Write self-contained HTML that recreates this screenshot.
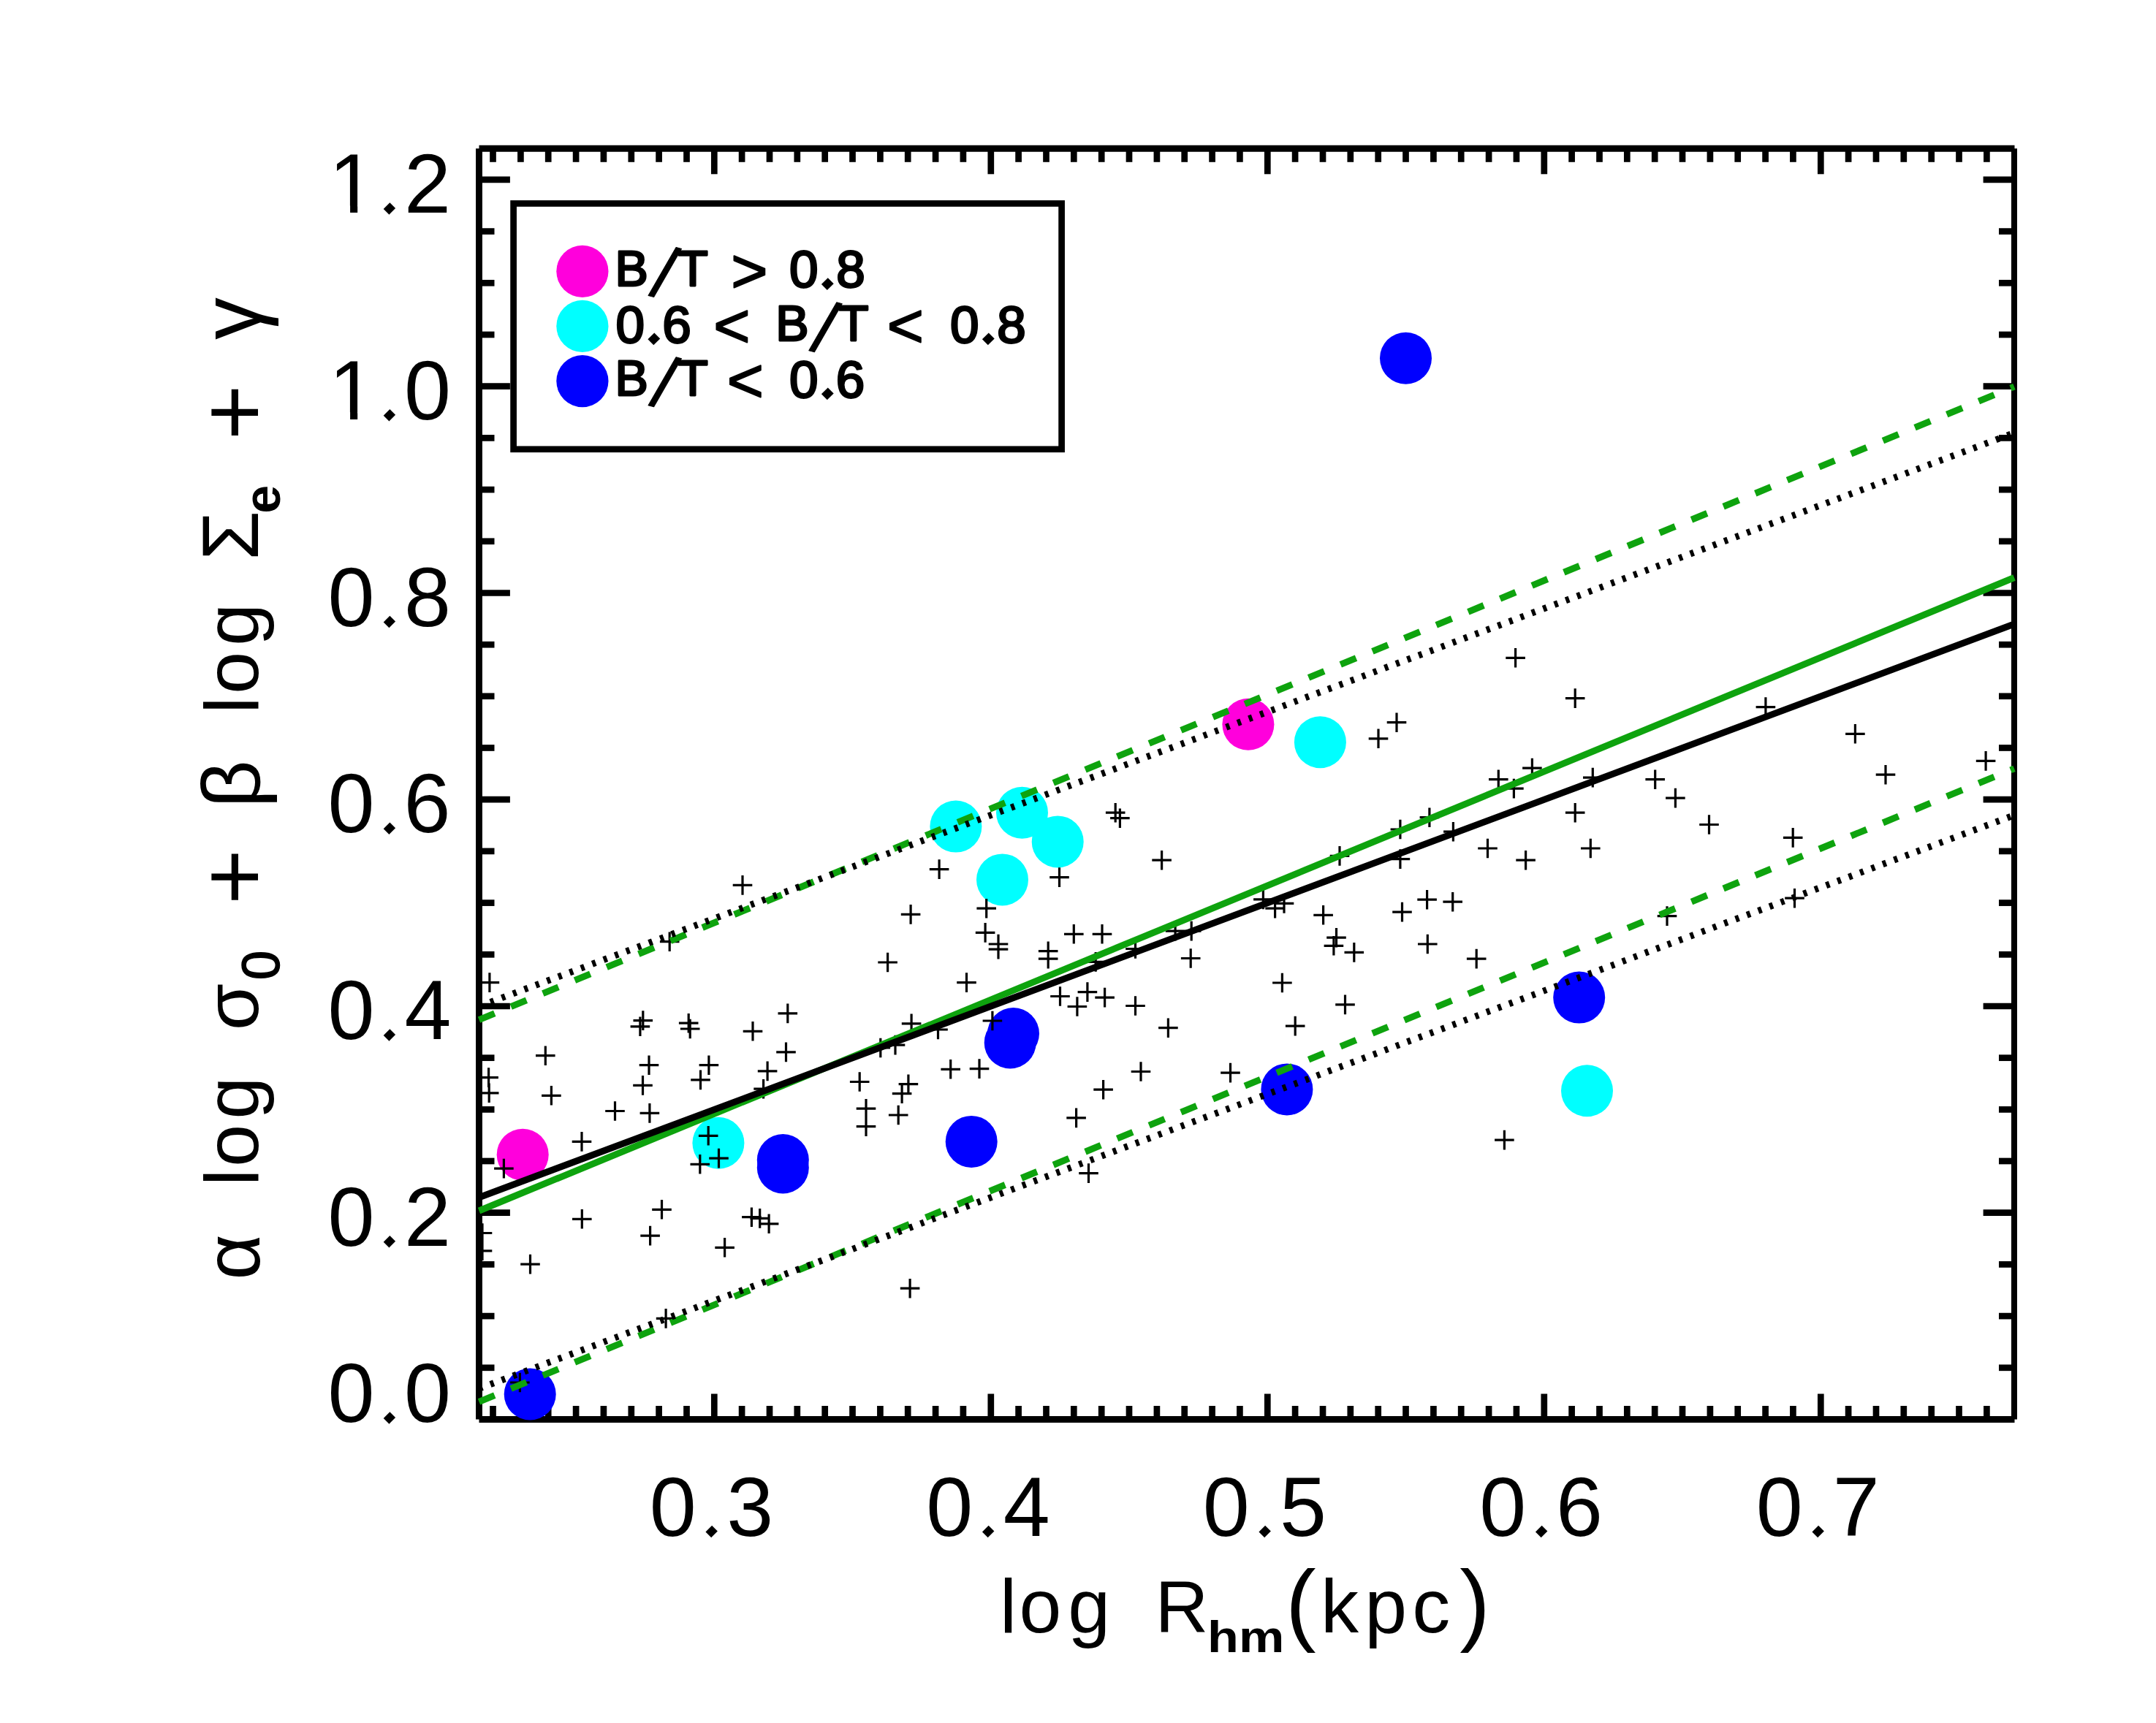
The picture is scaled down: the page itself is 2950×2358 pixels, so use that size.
<!DOCTYPE html>
<html><head><meta charset="utf-8"><title>Fundamental plane</title>
<style>html,body{margin:0;padding:0;background:#fff}svg{display:block}</style></head>
<body><svg width="2950" height="2358" viewBox="0 0 2950 2358">
<rect width="2950" height="2358" fill="#fff"/>
<g id="axes">
<line x1="655.5" y1="203.3" x2="2756.5" y2="203.3" stroke="#000" stroke-width="8.9" />
<line x1="655.5" y1="1942.5" x2="2756.5" y2="1942.5" stroke="#000" stroke-width="8.8" />
<line x1="655.5" y1="203.3" x2="655.5" y2="1942.5" stroke="#000" stroke-width="8.9" />
<line x1="2756.0" y1="203.3" x2="2756.0" y2="1942.5" stroke="#000" stroke-width="8.0" />
<line x1="674.5" y1="1942.5" x2="674.5" y2="1924.0" stroke="#000" stroke-width="8.7" />
<line x1="674.5" y1="203.3" x2="674.5" y2="221.8" stroke="#000" stroke-width="8.7" />
<line x1="712.4" y1="1942.5" x2="712.4" y2="1924.0" stroke="#000" stroke-width="8.7" />
<line x1="712.4" y1="203.3" x2="712.4" y2="221.8" stroke="#000" stroke-width="8.7" />
<line x1="750.2" y1="1942.5" x2="750.2" y2="1924.0" stroke="#000" stroke-width="8.7" />
<line x1="750.2" y1="203.3" x2="750.2" y2="221.8" stroke="#000" stroke-width="8.7" />
<line x1="788.1" y1="1942.5" x2="788.1" y2="1924.0" stroke="#000" stroke-width="8.7" />
<line x1="788.1" y1="203.3" x2="788.1" y2="221.8" stroke="#000" stroke-width="8.7" />
<line x1="825.9" y1="1942.5" x2="825.9" y2="1924.0" stroke="#000" stroke-width="8.7" />
<line x1="825.9" y1="203.3" x2="825.9" y2="221.8" stroke="#000" stroke-width="8.7" />
<line x1="863.8" y1="1942.5" x2="863.8" y2="1924.0" stroke="#000" stroke-width="8.7" />
<line x1="863.8" y1="203.3" x2="863.8" y2="221.8" stroke="#000" stroke-width="8.7" />
<line x1="901.6" y1="1942.5" x2="901.6" y2="1924.0" stroke="#000" stroke-width="8.7" />
<line x1="901.6" y1="203.3" x2="901.6" y2="221.8" stroke="#000" stroke-width="8.7" />
<line x1="939.5" y1="1942.5" x2="939.5" y2="1924.0" stroke="#000" stroke-width="8.7" />
<line x1="939.5" y1="203.3" x2="939.5" y2="221.8" stroke="#000" stroke-width="8.7" />
<line x1="977.3" y1="1942.5" x2="977.3" y2="1907.5" stroke="#000" stroke-width="8.7" />
<line x1="977.3" y1="203.3" x2="977.3" y2="238.3" stroke="#000" stroke-width="8.7" />
<line x1="1015.1" y1="1942.5" x2="1015.1" y2="1924.0" stroke="#000" stroke-width="8.7" />
<line x1="1015.1" y1="203.3" x2="1015.1" y2="221.8" stroke="#000" stroke-width="8.7" />
<line x1="1053.0" y1="1942.5" x2="1053.0" y2="1924.0" stroke="#000" stroke-width="8.7" />
<line x1="1053.0" y1="203.3" x2="1053.0" y2="221.8" stroke="#000" stroke-width="8.7" />
<line x1="1090.8" y1="1942.5" x2="1090.8" y2="1924.0" stroke="#000" stroke-width="8.7" />
<line x1="1090.8" y1="203.3" x2="1090.8" y2="221.8" stroke="#000" stroke-width="8.7" />
<line x1="1128.7" y1="1942.5" x2="1128.7" y2="1924.0" stroke="#000" stroke-width="8.7" />
<line x1="1128.7" y1="203.3" x2="1128.7" y2="221.8" stroke="#000" stroke-width="8.7" />
<line x1="1166.5" y1="1942.5" x2="1166.5" y2="1924.0" stroke="#000" stroke-width="8.7" />
<line x1="1166.5" y1="203.3" x2="1166.5" y2="221.8" stroke="#000" stroke-width="8.7" />
<line x1="1204.4" y1="1942.5" x2="1204.4" y2="1924.0" stroke="#000" stroke-width="8.7" />
<line x1="1204.4" y1="203.3" x2="1204.4" y2="221.8" stroke="#000" stroke-width="8.7" />
<line x1="1242.2" y1="1942.5" x2="1242.2" y2="1924.0" stroke="#000" stroke-width="8.7" />
<line x1="1242.2" y1="203.3" x2="1242.2" y2="221.8" stroke="#000" stroke-width="8.7" />
<line x1="1280.1" y1="1942.5" x2="1280.1" y2="1924.0" stroke="#000" stroke-width="8.7" />
<line x1="1280.1" y1="203.3" x2="1280.1" y2="221.8" stroke="#000" stroke-width="8.7" />
<line x1="1317.9" y1="1942.5" x2="1317.9" y2="1924.0" stroke="#000" stroke-width="8.7" />
<line x1="1317.9" y1="203.3" x2="1317.9" y2="221.8" stroke="#000" stroke-width="8.7" />
<line x1="1355.8" y1="1942.5" x2="1355.8" y2="1907.5" stroke="#000" stroke-width="8.7" />
<line x1="1355.8" y1="203.3" x2="1355.8" y2="238.3" stroke="#000" stroke-width="8.7" />
<line x1="1393.6" y1="1942.5" x2="1393.6" y2="1924.0" stroke="#000" stroke-width="8.7" />
<line x1="1393.6" y1="203.3" x2="1393.6" y2="221.8" stroke="#000" stroke-width="8.7" />
<line x1="1431.5" y1="1942.5" x2="1431.5" y2="1924.0" stroke="#000" stroke-width="8.7" />
<line x1="1431.5" y1="203.3" x2="1431.5" y2="221.8" stroke="#000" stroke-width="8.7" />
<line x1="1469.3" y1="1942.5" x2="1469.3" y2="1924.0" stroke="#000" stroke-width="8.7" />
<line x1="1469.3" y1="203.3" x2="1469.3" y2="221.8" stroke="#000" stroke-width="8.7" />
<line x1="1507.2" y1="1942.5" x2="1507.2" y2="1924.0" stroke="#000" stroke-width="8.7" />
<line x1="1507.2" y1="203.3" x2="1507.2" y2="221.8" stroke="#000" stroke-width="8.7" />
<line x1="1545.0" y1="1942.5" x2="1545.0" y2="1924.0" stroke="#000" stroke-width="8.7" />
<line x1="1545.0" y1="203.3" x2="1545.0" y2="221.8" stroke="#000" stroke-width="8.7" />
<line x1="1582.9" y1="1942.5" x2="1582.9" y2="1924.0" stroke="#000" stroke-width="8.7" />
<line x1="1582.9" y1="203.3" x2="1582.9" y2="221.8" stroke="#000" stroke-width="8.7" />
<line x1="1620.7" y1="1942.5" x2="1620.7" y2="1924.0" stroke="#000" stroke-width="8.7" />
<line x1="1620.7" y1="203.3" x2="1620.7" y2="221.8" stroke="#000" stroke-width="8.7" />
<line x1="1658.6" y1="1942.5" x2="1658.6" y2="1924.0" stroke="#000" stroke-width="8.7" />
<line x1="1658.6" y1="203.3" x2="1658.6" y2="221.8" stroke="#000" stroke-width="8.7" />
<line x1="1696.4" y1="1942.5" x2="1696.4" y2="1924.0" stroke="#000" stroke-width="8.7" />
<line x1="1696.4" y1="203.3" x2="1696.4" y2="221.8" stroke="#000" stroke-width="8.7" />
<line x1="1734.3" y1="1942.5" x2="1734.3" y2="1907.5" stroke="#000" stroke-width="8.7" />
<line x1="1734.3" y1="203.3" x2="1734.3" y2="238.3" stroke="#000" stroke-width="8.7" />
<line x1="1772.1" y1="1942.5" x2="1772.1" y2="1924.0" stroke="#000" stroke-width="8.7" />
<line x1="1772.1" y1="203.3" x2="1772.1" y2="221.8" stroke="#000" stroke-width="8.7" />
<line x1="1810.0" y1="1942.5" x2="1810.0" y2="1924.0" stroke="#000" stroke-width="8.7" />
<line x1="1810.0" y1="203.3" x2="1810.0" y2="221.8" stroke="#000" stroke-width="8.7" />
<line x1="1847.8" y1="1942.5" x2="1847.8" y2="1924.0" stroke="#000" stroke-width="8.7" />
<line x1="1847.8" y1="203.3" x2="1847.8" y2="221.8" stroke="#000" stroke-width="8.7" />
<line x1="1885.7" y1="1942.5" x2="1885.7" y2="1924.0" stroke="#000" stroke-width="8.7" />
<line x1="1885.7" y1="203.3" x2="1885.7" y2="221.8" stroke="#000" stroke-width="8.7" />
<line x1="1923.5" y1="1942.5" x2="1923.5" y2="1924.0" stroke="#000" stroke-width="8.7" />
<line x1="1923.5" y1="203.3" x2="1923.5" y2="221.8" stroke="#000" stroke-width="8.7" />
<line x1="1961.4" y1="1942.5" x2="1961.4" y2="1924.0" stroke="#000" stroke-width="8.7" />
<line x1="1961.4" y1="203.3" x2="1961.4" y2="221.8" stroke="#000" stroke-width="8.7" />
<line x1="1999.2" y1="1942.5" x2="1999.2" y2="1924.0" stroke="#000" stroke-width="8.7" />
<line x1="1999.2" y1="203.3" x2="1999.2" y2="221.8" stroke="#000" stroke-width="8.7" />
<line x1="2037.1" y1="1942.5" x2="2037.1" y2="1924.0" stroke="#000" stroke-width="8.7" />
<line x1="2037.1" y1="203.3" x2="2037.1" y2="221.8" stroke="#000" stroke-width="8.7" />
<line x1="2074.9" y1="1942.5" x2="2074.9" y2="1924.0" stroke="#000" stroke-width="8.7" />
<line x1="2074.9" y1="203.3" x2="2074.9" y2="221.8" stroke="#000" stroke-width="8.7" />
<line x1="2112.8" y1="1942.5" x2="2112.8" y2="1907.5" stroke="#000" stroke-width="8.7" />
<line x1="2112.8" y1="203.3" x2="2112.8" y2="238.3" stroke="#000" stroke-width="8.7" />
<line x1="2150.6" y1="1942.5" x2="2150.6" y2="1924.0" stroke="#000" stroke-width="8.7" />
<line x1="2150.6" y1="203.3" x2="2150.6" y2="221.8" stroke="#000" stroke-width="8.7" />
<line x1="2188.5" y1="1942.5" x2="2188.5" y2="1924.0" stroke="#000" stroke-width="8.7" />
<line x1="2188.5" y1="203.3" x2="2188.5" y2="221.8" stroke="#000" stroke-width="8.7" />
<line x1="2226.3" y1="1942.5" x2="2226.3" y2="1924.0" stroke="#000" stroke-width="8.7" />
<line x1="2226.3" y1="203.3" x2="2226.3" y2="221.8" stroke="#000" stroke-width="8.7" />
<line x1="2264.2" y1="1942.5" x2="2264.2" y2="1924.0" stroke="#000" stroke-width="8.7" />
<line x1="2264.2" y1="203.3" x2="2264.2" y2="221.8" stroke="#000" stroke-width="8.7" />
<line x1="2302.0" y1="1942.5" x2="2302.0" y2="1924.0" stroke="#000" stroke-width="8.7" />
<line x1="2302.0" y1="203.3" x2="2302.0" y2="221.8" stroke="#000" stroke-width="8.7" />
<line x1="2339.9" y1="1942.5" x2="2339.9" y2="1924.0" stroke="#000" stroke-width="8.7" />
<line x1="2339.9" y1="203.3" x2="2339.9" y2="221.8" stroke="#000" stroke-width="8.7" />
<line x1="2377.7" y1="1942.5" x2="2377.7" y2="1924.0" stroke="#000" stroke-width="8.7" />
<line x1="2377.7" y1="203.3" x2="2377.7" y2="221.8" stroke="#000" stroke-width="8.7" />
<line x1="2415.6" y1="1942.5" x2="2415.6" y2="1924.0" stroke="#000" stroke-width="8.7" />
<line x1="2415.6" y1="203.3" x2="2415.6" y2="221.8" stroke="#000" stroke-width="8.7" />
<line x1="2453.4" y1="1942.5" x2="2453.4" y2="1924.0" stroke="#000" stroke-width="8.7" />
<line x1="2453.4" y1="203.3" x2="2453.4" y2="221.8" stroke="#000" stroke-width="8.7" />
<line x1="2491.3" y1="1942.5" x2="2491.3" y2="1907.5" stroke="#000" stroke-width="8.7" />
<line x1="2491.3" y1="203.3" x2="2491.3" y2="238.3" stroke="#000" stroke-width="8.7" />
<line x1="2529.1" y1="1942.5" x2="2529.1" y2="1924.0" stroke="#000" stroke-width="8.7" />
<line x1="2529.1" y1="203.3" x2="2529.1" y2="221.8" stroke="#000" stroke-width="8.7" />
<line x1="2567.0" y1="1942.5" x2="2567.0" y2="1924.0" stroke="#000" stroke-width="8.7" />
<line x1="2567.0" y1="203.3" x2="2567.0" y2="221.8" stroke="#000" stroke-width="8.7" />
<line x1="2604.8" y1="1942.5" x2="2604.8" y2="1924.0" stroke="#000" stroke-width="8.7" />
<line x1="2604.8" y1="203.3" x2="2604.8" y2="221.8" stroke="#000" stroke-width="8.7" />
<line x1="2642.7" y1="1942.5" x2="2642.7" y2="1924.0" stroke="#000" stroke-width="8.7" />
<line x1="2642.7" y1="203.3" x2="2642.7" y2="221.8" stroke="#000" stroke-width="8.7" />
<line x1="2680.5" y1="1942.5" x2="2680.5" y2="1924.0" stroke="#000" stroke-width="8.7" />
<line x1="2680.5" y1="203.3" x2="2680.5" y2="221.8" stroke="#000" stroke-width="8.7" />
<line x1="2718.4" y1="1942.5" x2="2718.4" y2="1924.0" stroke="#000" stroke-width="8.7" />
<line x1="2718.4" y1="203.3" x2="2718.4" y2="221.8" stroke="#000" stroke-width="8.7" />
<line x1="655.5" y1="1871.8" x2="676.5" y2="1871.8" stroke="#000" stroke-width="8.7" />
<line x1="2756.0" y1="1871.8" x2="2735.0" y2="1871.8" stroke="#000" stroke-width="8.7" />
<line x1="655.5" y1="1801.1" x2="676.5" y2="1801.1" stroke="#000" stroke-width="8.7" />
<line x1="2756.0" y1="1801.1" x2="2735.0" y2="1801.1" stroke="#000" stroke-width="8.7" />
<line x1="655.5" y1="1730.4" x2="676.5" y2="1730.4" stroke="#000" stroke-width="8.7" />
<line x1="2756.0" y1="1730.4" x2="2735.0" y2="1730.4" stroke="#000" stroke-width="8.7" />
<line x1="655.5" y1="1659.7" x2="697.9" y2="1659.7" stroke="#000" stroke-width="8.7" />
<line x1="2756.0" y1="1659.7" x2="2713.6" y2="1659.7" stroke="#000" stroke-width="8.7" />
<line x1="655.5" y1="1589.0" x2="676.5" y2="1589.0" stroke="#000" stroke-width="8.7" />
<line x1="2756.0" y1="1589.0" x2="2735.0" y2="1589.0" stroke="#000" stroke-width="8.7" />
<line x1="655.5" y1="1518.4" x2="676.5" y2="1518.4" stroke="#000" stroke-width="8.7" />
<line x1="2756.0" y1="1518.4" x2="2735.0" y2="1518.4" stroke="#000" stroke-width="8.7" />
<line x1="655.5" y1="1447.7" x2="676.5" y2="1447.7" stroke="#000" stroke-width="8.7" />
<line x1="2756.0" y1="1447.7" x2="2735.0" y2="1447.7" stroke="#000" stroke-width="8.7" />
<line x1="655.5" y1="1377.0" x2="697.9" y2="1377.0" stroke="#000" stroke-width="8.7" />
<line x1="2756.0" y1="1377.0" x2="2713.6" y2="1377.0" stroke="#000" stroke-width="8.7" />
<line x1="655.5" y1="1306.3" x2="676.5" y2="1306.3" stroke="#000" stroke-width="8.7" />
<line x1="2756.0" y1="1306.3" x2="2735.0" y2="1306.3" stroke="#000" stroke-width="8.7" />
<line x1="655.5" y1="1235.6" x2="676.5" y2="1235.6" stroke="#000" stroke-width="8.7" />
<line x1="2756.0" y1="1235.6" x2="2735.0" y2="1235.6" stroke="#000" stroke-width="8.7" />
<line x1="655.5" y1="1164.9" x2="676.5" y2="1164.9" stroke="#000" stroke-width="8.7" />
<line x1="2756.0" y1="1164.9" x2="2735.0" y2="1164.9" stroke="#000" stroke-width="8.7" />
<line x1="655.5" y1="1094.2" x2="697.9" y2="1094.2" stroke="#000" stroke-width="8.7" />
<line x1="2756.0" y1="1094.2" x2="2713.6" y2="1094.2" stroke="#000" stroke-width="8.7" />
<line x1="655.5" y1="1023.5" x2="676.5" y2="1023.5" stroke="#000" stroke-width="8.7" />
<line x1="2756.0" y1="1023.5" x2="2735.0" y2="1023.5" stroke="#000" stroke-width="8.7" />
<line x1="655.5" y1="952.8" x2="676.5" y2="952.8" stroke="#000" stroke-width="8.7" />
<line x1="2756.0" y1="952.8" x2="2735.0" y2="952.8" stroke="#000" stroke-width="8.7" />
<line x1="655.5" y1="882.2" x2="676.5" y2="882.2" stroke="#000" stroke-width="8.7" />
<line x1="2756.0" y1="882.2" x2="2735.0" y2="882.2" stroke="#000" stroke-width="8.7" />
<line x1="655.5" y1="811.5" x2="697.9" y2="811.5" stroke="#000" stroke-width="8.7" />
<line x1="2756.0" y1="811.5" x2="2713.6" y2="811.5" stroke="#000" stroke-width="8.7" />
<line x1="655.5" y1="740.8" x2="676.5" y2="740.8" stroke="#000" stroke-width="8.7" />
<line x1="2756.0" y1="740.8" x2="2735.0" y2="740.8" stroke="#000" stroke-width="8.7" />
<line x1="655.5" y1="670.1" x2="676.5" y2="670.1" stroke="#000" stroke-width="8.7" />
<line x1="2756.0" y1="670.1" x2="2735.0" y2="670.1" stroke="#000" stroke-width="8.7" />
<line x1="655.5" y1="599.4" x2="676.5" y2="599.4" stroke="#000" stroke-width="8.7" />
<line x1="2756.0" y1="599.4" x2="2735.0" y2="599.4" stroke="#000" stroke-width="8.7" />
<line x1="655.5" y1="528.7" x2="697.9" y2="528.7" stroke="#000" stroke-width="8.7" />
<line x1="2756.0" y1="528.7" x2="2713.6" y2="528.7" stroke="#000" stroke-width="8.7" />
<line x1="655.5" y1="458.0" x2="676.5" y2="458.0" stroke="#000" stroke-width="8.7" />
<line x1="2756.0" y1="458.0" x2="2735.0" y2="458.0" stroke="#000" stroke-width="8.7" />
<line x1="655.5" y1="387.3" x2="676.5" y2="387.3" stroke="#000" stroke-width="8.7" />
<line x1="2756.0" y1="387.3" x2="2735.0" y2="387.3" stroke="#000" stroke-width="8.7" />
<line x1="655.5" y1="316.6" x2="676.5" y2="316.6" stroke="#000" stroke-width="8.7" />
<line x1="2756.0" y1="316.6" x2="2735.0" y2="316.6" stroke="#000" stroke-width="8.7" />
<line x1="655.5" y1="245.9" x2="697.9" y2="245.9" stroke="#000" stroke-width="8.7" />
<line x1="2756.0" y1="245.9" x2="2713.6" y2="245.9" stroke="#000" stroke-width="8.7" />
</g>
<g id="circles">
<circle cx="715.2" cy="1580.2" r="35.5" fill="#ff00dc"/>
<circle cx="1707.9" cy="991.3" r="35.5" fill="#ff00dc"/>
<circle cx="1307.9" cy="1131.1" r="35.5" fill="#00ffff"/>
<circle cx="1398.5" cy="1112.2" r="35.5" fill="#00ffff"/>
<circle cx="1447.2" cy="1151.9" r="35.5" fill="#00ffff"/>
<circle cx="1371.5" cy="1203.9" r="35.5" fill="#00ffff"/>
<circle cx="1806.4" cy="1015.7" r="35.5" fill="#00ffff"/>
<circle cx="982.9" cy="1564.3" r="35.5" fill="#00ffff"/>
<circle cx="2171.5" cy="1492.8" r="35.5" fill="#00ffff"/>
<circle cx="1923.5" cy="490.2" r="35.5" fill="#0000ff"/>
<circle cx="725.2" cy="1908.0" r="35.5" fill="#0000ff"/>
<circle cx="1071.3" cy="1587.5" r="35.5" fill="#0000ff"/>
<circle cx="1071.3" cy="1598.0" r="35.5" fill="#0000ff"/>
<circle cx="1329.2" cy="1562.4" r="35.5" fill="#0000ff"/>
<circle cx="1386.5" cy="1414.5" r="35.5" fill="#0000ff"/>
<circle cx="1382.2" cy="1426.9" r="35.5" fill="#0000ff"/>
<circle cx="1760.9" cy="1490.9" r="35.5" fill="#0000ff"/>
<circle cx="2160.7" cy="1365.1" r="35.5" fill="#0000ff"/>
</g>
<defs><clipPath id="cp"><rect x="655.5" y="203.3" width="2100.5" height="1739.2"/></clipPath></defs>
<path id="plus" d="M1232.8 1251.4h26.6M1246.1 1238.1v26.6M902.9 1288.7h26.6M916.2 1275.4v26.6M1201.3 1317.0h26.6M1214.6 1303.7v26.6M1309.2 1344.6h26.6M1322.5 1331.3v26.6M656.6 1344.6h26.6M669.9 1331.3v26.6M1064.5 1386.9h26.6M1077.8 1373.6v26.6M866.5 1396.6h26.6M879.8 1383.3v26.6M862.6 1404.8h26.6M875.9 1391.5v26.6M928.9 1400.2h26.6M942.2 1386.9v26.6M930.9 1408.0h26.6M944.2 1394.7v26.6M1016.7 1411.3h26.6M1030.0 1398.0v26.6M1233.8 1400.9h26.6M1247.1 1387.6v26.6M1270.2 1409.0h26.6M1283.5 1395.7v26.6M1191.5 1434.0h26.6M1204.8 1420.7v26.6M1211.7 1430.1h26.6M1225.0 1416.8v26.6M733.0 1444.7h26.6M746.3 1431.4v26.6M1062.2 1439.9h26.6M1075.5 1426.6v26.6M874.7 1457.7h26.6M888.0 1444.4v26.6M956.6 1457.7h26.6M969.9 1444.4v26.6M1036.8 1465.9h26.6M1050.1 1452.6v26.6M1287.4 1463.3h26.6M1300.7 1450.0v26.6M655.3 1474.6h26.6M668.6 1461.3v26.6M655.9 1495.8h26.6M669.2 1482.5v26.6M945.2 1477.9h26.6M958.5 1464.6v26.6M866.2 1485.4h26.6M879.5 1472.1v26.6M1162.9 1480.5h26.6M1176.2 1467.2v26.6M1229.6 1483.7h26.6M1242.9 1470.4v26.6M1220.8 1496.7h26.6M1234.1 1483.4v26.6M1031.3 1490.2h26.6M1044.6 1476.9v26.6M741.1 1499.3h26.6M754.4 1486.0v26.6M828.2 1520.5h26.6M841.5 1507.2v26.6M875.6 1523.4h26.6M888.9 1510.1v26.6M1171.7 1517.2h26.6M1185.0 1503.9v26.6M1171.7 1541.6h26.6M1185.0 1528.3v26.6M1215.9 1526.0h26.6M1229.2 1512.7v26.6M782.7 1562.4h26.6M796.0 1549.1v26.6M955.9 1554.3h26.6M969.2 1541.0v26.6M970.2 1585.1h26.6M983.5 1571.8v26.6M944.5 1593.3h26.6M957.8 1580.0v26.6M676.1 1599.1h26.6M689.4 1585.8v26.6M892.2 1655.3h26.6M905.5 1642.0v26.6M783.0 1668.3h26.6M796.3 1655.0v26.6M1015.1 1665.7h26.6M1028.4 1652.4v26.6M1026.4 1667.4h26.6M1039.7 1654.1v26.6M1038.8 1674.8h26.6M1052.1 1661.5v26.6M876.3 1691.1h26.6M889.6 1677.8v26.6M978.3 1707.3h26.6M991.6 1694.0v26.6M712.2 1730.1h26.6M725.5 1716.8v26.6M1231.8 1763.2h26.6M1245.1 1749.9v26.6M1334.8 1276.4h26.6M1348.1 1263.1v26.6M1352.7 1292.0h26.6M1366.0 1278.7v26.6M1352.7 1299.1h26.6M1366.0 1285.8v26.6M1420.9 1301.7h26.6M1434.2 1288.4v26.6M1420.9 1312.1h26.6M1434.2 1298.8v26.6M1456.0 1278.3h26.6M1469.3 1265.0v26.6M1494.7 1278.3h26.6M1508.0 1265.0v26.6M1485.9 1316.4h26.6M1499.2 1303.1v26.6M1540.2 1298.5h26.6M1553.5 1285.2v26.6M1594.8 1274.1h26.6M1608.1 1260.8v26.6M1616.9 1274.1h26.6M1630.2 1260.8v26.6M1615.9 1311.5h26.6M1629.2 1298.2v26.6M1731.3 1243.2h26.6M1744.6 1229.9v26.6M1797.3 1252.3h26.6M1810.6 1239.0v26.6M1905.2 1248.1h26.6M1918.5 1234.8v26.6M1939.3 1231.2h26.6M1952.6 1217.9v26.6M1974.4 1234.2h26.6M1987.7 1220.9v26.6M1815.2 1283.2h26.6M1828.5 1269.9v26.6M1811.6 1294.3h26.6M1824.9 1281.0v26.6M1839.5 1303.4h26.6M1852.8 1290.1v26.6M1940.0 1292.0h26.6M1953.3 1278.7v26.6M2006.9 1312.1h26.6M2020.2 1298.8v26.6M1437.2 1363.5h26.6M1450.5 1350.2v26.6M1474.6 1357.6h26.6M1487.9 1344.3v26.6M1460.6 1377.5h26.6M1473.9 1364.2v26.6M1498.3 1365.1h26.6M1511.6 1351.8v26.6M1540.2 1376.5h26.6M1553.5 1363.2v26.6M1741.1 1345.0h26.6M1754.4 1331.7v26.6M1827.2 1374.9h26.6M1840.5 1361.6v26.6M1344.6 1397.0h26.6M1357.9 1383.7v26.6M1585.1 1406.7h26.6M1598.4 1393.4v26.6M1758.9 1404.1h26.6M1772.2 1390.8v26.6M1326.7 1462.6h26.6M1340.0 1449.3v26.6M1547.7 1466.5h26.6M1561.0 1453.2v26.6M1670.2 1468.1h26.6M1683.5 1454.8v26.6M1496.3 1491.2h26.6M1509.6 1477.9v26.6M1459.3 1529.9h26.6M1472.6 1516.6v26.6M1476.2 1605.6h26.6M1489.5 1592.3v26.6M1336.4 1243.2h26.6M1349.7 1229.9v26.6M2267.7 1253.6h26.6M2281.0 1240.3v26.6M2045.1 1560.1h26.6M2058.4 1546.8v26.6M1002.7 1211.4h26.6M1016.0 1198.1v26.6M1271.8 1189.6h26.6M1285.1 1176.3v26.6M1512.9 1112.2h26.6M1526.2 1098.9v26.6M1519.1 1119.7h26.6M1532.4 1106.4v26.6M1897.7 988.7h26.6M1911.0 975.4v26.6M1872.7 1010.8h26.6M1886.0 997.5v26.6M1576.3 1177.2h26.6M1589.6 1163.9v26.6M1436.2 1200.6h26.6M1449.5 1187.3v26.6M1819.7 1171.4h26.6M1833.0 1158.1v26.6M1902.6 1135.0h26.6M1915.9 1121.7v26.6M1902.6 1175.6h26.6M1915.9 1162.3v26.6M1942.6 1118.7h26.6M1955.9 1105.4v26.6M1975.1 1138.2h26.6M1988.4 1124.9v26.6M2022.2 1161.0h26.6M2035.5 1147.7v26.6M1715.1 1230.9h26.6M1728.4 1217.6v26.6M1743.7 1236.4h26.6M1757.0 1223.1v26.6M2060.3 900.3h26.6M2073.6 887.0v26.6M2141.9 955.6h26.6M2155.2 942.3v26.6M2402.6 967.6h26.6M2415.9 954.3v26.6M2525.1 1004.3h26.6M2538.4 991.0v26.6M2703.8 1041.4h26.6M2717.1 1028.1v26.6M2083.1 1051.1h26.6M2096.4 1037.8v26.6M2058.1 1079.1h26.6M2071.4 1065.8v26.6M2037.0 1066.7h26.6M2050.3 1053.4v26.6M2166.0 1064.1h26.6M2179.3 1050.8v26.6M2251.4 1066.7h26.6M2264.7 1053.4v26.6M2279.1 1092.1h26.6M2292.4 1078.8v26.6M2566.7 1060.2h26.6M2580.0 1046.9v26.6M2141.9 1112.2h26.6M2155.2 1098.9v26.6M2325.2 1128.5h26.6M2338.5 1115.2v26.6M2439.9 1146.4h26.6M2453.2 1133.1v26.6M2163.0 1161.0h26.6M2176.3 1147.7v26.6M2074.3 1177.2h26.6M2087.6 1163.9v26.6M2442.2 1229.2h26.6M2455.5 1215.9v26.6M897.8 1804.4h26.6M911.1 1791.1v26.6M698.1 1892.0h26.6M711.4 1878.7v26.6M646.7 1687.5h26.6M660.0 1674.2v26.6M646.7 1711.8h26.6M660.0 1698.5v26.6" stroke="#000" stroke-width="3.2" fill="none" clip-path="url(#cp)"/>
<g id="fits">
<line x1="655.5" y1="1657.0" x2="2756.0" y2="790.5" stroke="#0ea30e" stroke-width="9" />
<line x1="655.5" y1="1395.6" x2="2756.0" y2="529.1" stroke="#0ea30e" stroke-width="9" stroke-dasharray="23 24.226"/>
<line x1="655.5" y1="1918.4" x2="2756.0" y2="1051.9" stroke="#0ea30e" stroke-width="9" stroke-dasharray="23 24.226"/>
<line x1="655.5" y1="1638.7" x2="2756.0" y2="854.0" stroke="#000" stroke-width="9" />
<line x1="655.5" y1="1377.2" x2="2756.0" y2="592.5" stroke="#000" stroke-width="9" stroke-dasharray="5 11.534"/>
<line x1="655.5" y1="1900.3" x2="2756.0" y2="1115.6" stroke="#000" stroke-width="9" stroke-dasharray="5 11.534"/>
</g>
<g id="labels" font-family="'Liberation Sans', sans-serif" fill="#000">
<text x="888.8 958.1 994.2" y="2101.5 2089.1 2101.5" rotate="0 45 0" font-size="115">0.3</text>
<text x="1267.3 1336.5 1372.7" y="2101.5 2089.1 2101.5" rotate="0 45 0" font-size="115">0.4</text>
<text x="1645.8 1715.0 1750.9" y="2101.5 2089.1 2101.5" rotate="0 45 0" font-size="115">0.5</text>
<text x="2024.3 2093.5 2128.9" y="2101.5 2089.1 2101.5" rotate="0 45 0" font-size="115">0.6</text>
<text x="2402.8 2472.0 2507.7" y="2101.5 2089.1 2101.5" rotate="0 45 0" font-size="115">0.7</text>
<text x="448.5 517.2 553.0" y="1945.9 1933.5 1945.9" rotate="0 45 0" font-size="115">0.0</text>
<text x="448.5 517.2 553.0" y="1704.7 1692.3 1704.7" rotate="0 45 0" font-size="115">0.2</text>
<text x="448.5 517.2 553.4" y="1422.0 1409.5 1422.0" rotate="0 45 0" font-size="115">0.4</text>
<text x="448.5 517.2 552.6" y="1139.2 1126.8 1139.2" rotate="0 45 0" font-size="115">0.6</text>
<text x="448.5 517.2 553.0" y="856.5 844.0 856.5" rotate="0 45 0" font-size="115">0.8</text>
<text x="450.1 517.2 553.0" y="573.7 561.3 573.7" rotate="0 45 0" font-size="115">1.0</text><rect x="458.0" y="564.2" width="21.1" height="11" fill="#fff"/><rect x="489.2" y="564.2" width="20.6" height="11" fill="#fff"/>
<text x="450.1 517.2 553.0" y="290.9 278.5 290.9" rotate="0 45 0" font-size="115">1.2</text><rect x="458.0" y="281.4" width="21.1" height="11" fill="#fff"/><rect x="489.2" y="281.4" width="20.6" height="11" fill="#fff"/>
<text font-size="104" ><tspan x="1368.0 1394.6 1461.3" y="2234.0">log</tspan> <tspan x="1580.6" y="2234.0" font-size="101">R</tspan></text>
<text transform="translate(1652.1,2261) scale(1.15,1)" font-size="61" font-weight="bold">hm</text>
<text font-size="104" ><tspan x="1758.9" y="2236.0" font-size="125">(</tspan><tspan x="1807.0 1867.3 1932.2" y="2234.0">kpc</tspan><tspan x="1997.3" y="2236.0" font-size="125">)</tspan></text>
<text font-size="104" transform="rotate(-90)"><tspan x="-1751.6" y="354.5" font-size="108">α</tspan> <tspan x="-1623.1 -1596.8 -1531.4" y="352.5">log</tspan> <tspan x="-1410.1" y="352.5">σ</tspan><tspan x="-1340.9" y="381.5" font-size="72" stroke="#000" stroke-width="1.5" stroke-linejoin="round">0</tspan> <tspan x="-1238.1" y="364.0" font-size="130">+</tspan> <tspan x="-1105.8" y="356.0" font-size="114">β</tspan> <tspan x="-976.7 -949.8 -883.8" y="352.5">log</tspan> <tspan x="-767.1" y="352.5" font-size="110">Σ</tspan><tspan x="-702.7" y="383.0" font-size="70" font-weight="bold">e</tspan> <tspan x="-602.3" y="364.0" font-size="130">+</tspan> <tspan x="-464.9" y="356.5" font-size="116">γ</tspan></text>
</g>
<g id="legend" font-family="'Liberation Sans', sans-serif" fill="#000">
<rect x="702.6" y="278.5" width="750" height="336.3" fill="#fff" stroke="#000" stroke-width="8.7"/>
<circle cx="796.9" cy="371.3" r="35.6" fill="#ff00dc"/>
<circle cx="796.9" cy="446.4" r="35.6" fill="#00ffff"/>
<circle cx="796.9" cy="521.6" r="35.6" fill="#0000ff"/>
<text font-size="68" ><tspan x="841.6" y="390.5" stroke="#000" stroke-width="2.8" stroke-linejoin="round">B</tspan><tspan x="887.3" y="403.5" font-size="100" rotate="14.7" stroke="#000" stroke-width="1" stroke-linejoin="round">/</tspan><tspan x="927.2" y="390.5" stroke="#000" stroke-width="2.8" stroke-linejoin="round">T</tspan> <tspan x="1000.3" y="399.7" font-size="86" stroke="#000" stroke-width="2" stroke-linejoin="round">&gt;</tspan> <tspan x="1080.1" y="393.3" font-size="71" stroke="#000" stroke-width="2.8" stroke-linejoin="round">0</tspan><tspan x="1116.3" y="381.4" font-size="118" rotate="45">.</tspan><tspan x="1144.3" y="393.3" font-size="71" stroke="#000" stroke-width="2.8" stroke-linejoin="round">8</tspan></text>
<text font-size="68" ><tspan x="842.6" y="468.6" font-size="71" stroke="#000" stroke-width="2.8" stroke-linejoin="round">0</tspan><tspan x="878.8" y="456.7" font-size="118" rotate="45">.</tspan><tspan x="906.3" y="468.6" font-size="71" stroke="#000" stroke-width="2.8" stroke-linejoin="round">6</tspan> <tspan x="976.2" y="475.0" font-size="86" stroke="#000" stroke-width="2" stroke-linejoin="round">&lt;</tspan> <tspan x="1061.3" y="465.8" stroke="#000" stroke-width="2.8" stroke-linejoin="round">B</tspan><tspan x="1107.0" y="478.8" font-size="100" rotate="14.7" stroke="#000" stroke-width="1" stroke-linejoin="round">/</tspan><tspan x="1146.9" y="465.8" stroke="#000" stroke-width="2.8" stroke-linejoin="round">T</tspan> <tspan x="1213.7" y="475.0" font-size="86" stroke="#000" stroke-width="2" stroke-linejoin="round">&lt;</tspan> <tspan x="1300.1" y="468.6" font-size="71" stroke="#000" stroke-width="2.8" stroke-linejoin="round">0</tspan><tspan x="1336.3" y="456.7" font-size="118" rotate="45">.</tspan><tspan x="1364.3" y="468.6" font-size="71" stroke="#000" stroke-width="2.8" stroke-linejoin="round">8</tspan></text>
<text font-size="68" ><tspan x="841.6" y="540.8" stroke="#000" stroke-width="2.8" stroke-linejoin="round">B</tspan><tspan x="887.3" y="553.8" font-size="100" rotate="14.7" stroke="#000" stroke-width="1" stroke-linejoin="round">/</tspan><tspan x="927.2" y="540.8" stroke="#000" stroke-width="2.8" stroke-linejoin="round">T</tspan> <tspan x="994.8" y="550.0" font-size="86" stroke="#000" stroke-width="2" stroke-linejoin="round">&lt;</tspan> <tspan x="1080.1" y="543.6" font-size="71" stroke="#000" stroke-width="2.8" stroke-linejoin="round">0</tspan><tspan x="1116.3" y="531.7" font-size="118" rotate="45">.</tspan><tspan x="1143.8" y="543.6" font-size="71" stroke="#000" stroke-width="2.8" stroke-linejoin="round">6</tspan></text>
</g>
</svg></body></html>
